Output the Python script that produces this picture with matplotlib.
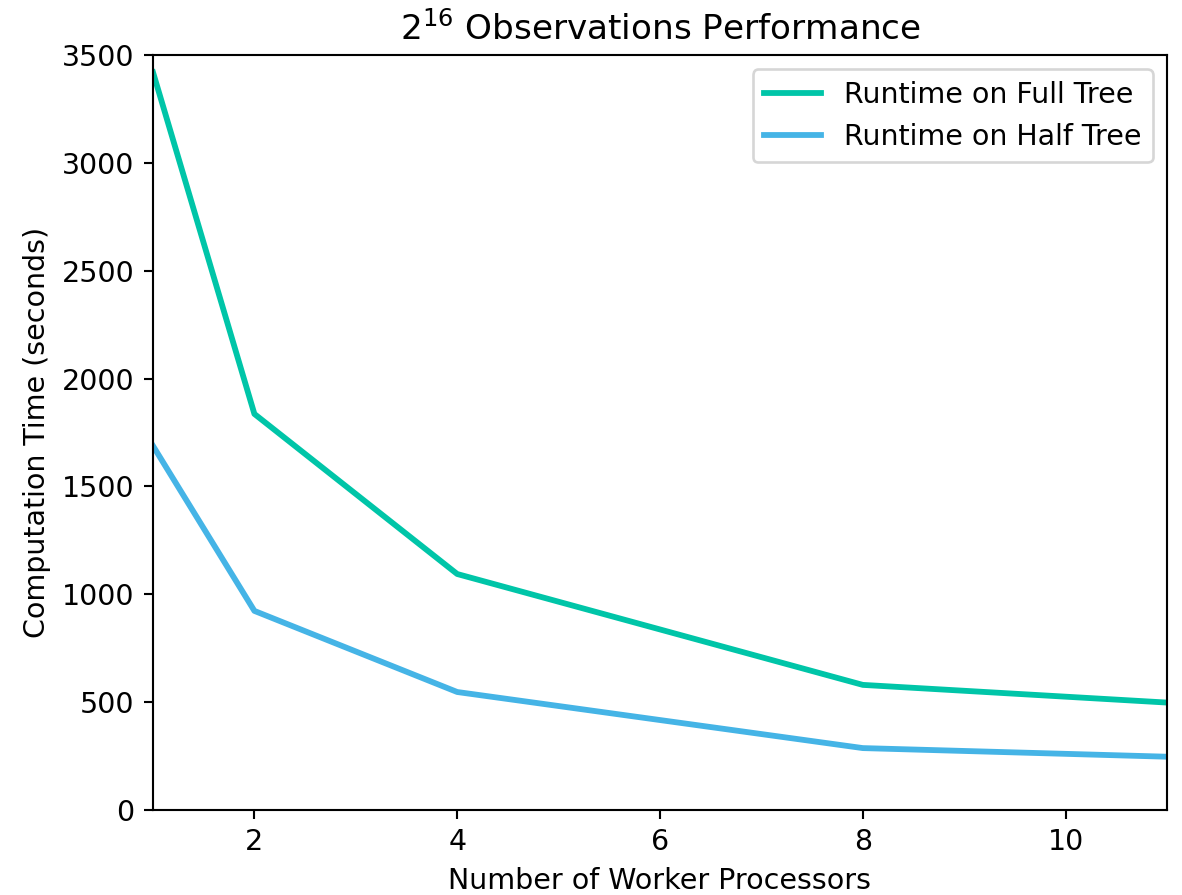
import matplotlib
matplotlib.use('Agg')
import matplotlib.pyplot as plt

# worker counts and runtimes (seconds)
workers = [1, 2, 4, 8, 11]
full_tree = [3420, 1836, 1094, 580, 498]
half_tree = [1688, 923, 547, 287, 247]

DPI = 190
plt.rcParams['font.size'] = 10.8
fig = plt.figure(figsize=(1182 / DPI, 895 / DPI), dpi=DPI)
ax = fig.add_subplot(111)
fig.subplots_adjust(left=153 / 1182, right=1167 / 1182, top=1 - 55 / 895, bottom=1 - 810 / 895)

ax.plot(workers, full_tree, color='#00c5a8', linewidth=2.2, label='Runtime on Full Tree')
ax.plot(workers, half_tree, color='#45b4e6', linewidth=2.2, label='Runtime on Half Tree')

ax.set_xlim(1, 11)
ax.set_ylim(0, 3500)
ax.set_xticks([2, 4, 6, 8, 10])
ax.set_yticks(range(0, 3501, 500))

ax.set_title(r'$2^{16}$ Observations Performance', fontsize=13)
ax.set_xlabel('Number of Worker Processors')
ax.set_ylabel('Computation Time (seconds)')
ax.legend(loc='upper right')

fig.savefig('out.png', dpi=DPI)
